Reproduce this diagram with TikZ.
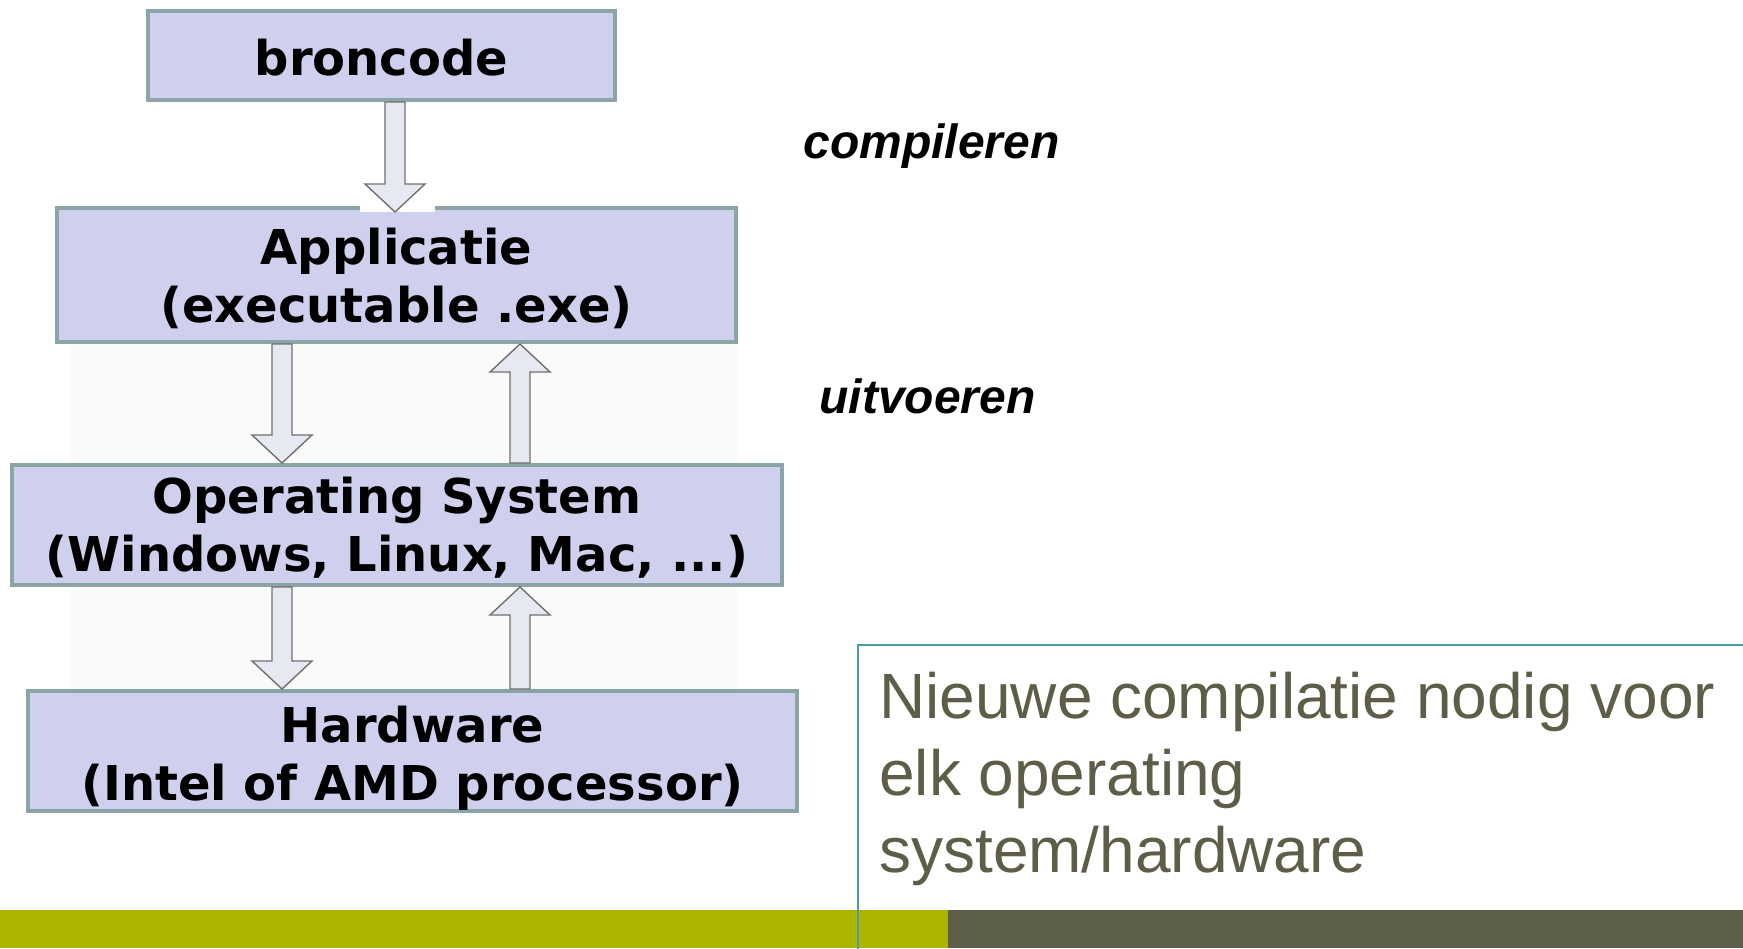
\documentclass[tikz,border=0pt]{standalone}
\usepackage{fontspec}
\setmainfont{DejaVu Sans}
\newfontfamily\labelfont{Liberation Sans}
\usetikzlibrary{calc}
\definecolor{boxfill}{HTML}{CFCFEE}
\definecolor{boxline}{HTML}{8BA5A7}
\definecolor{arrfill}{HTML}{E6E9F1}
\definecolor{arrline}{HTML}{707070}
\definecolor{notetext}{HTML}{5E5E48}
\definecolor{noteframe}{HTML}{4E9CA8}
\definecolor{barolive}{HTML}{ADB500}
\definecolor{bardark}{HTML}{5E5F4A}
\definecolor{haze}{HTML}{FAFAFA}

% block arrows between two points (canvas y points up)
\newcommand\blockdown[2]{%
  \path[blockarr] let \p1=(#1), \p2=(#2) in
    (\x1-10pt,\y1) -- (\x1+10pt,\y1) -- (\x1+10pt,\y2+28pt) -- (\x1+30pt,\y2+28pt)
    -- (\x1,\y2) -- (\x1-30pt,\y2+28pt) -- (\x1-10pt,\y2+28pt) -- cycle;}
\newcommand\blockup[2]{%
  \path[blockarr] let \p1=(#1), \p2=(#2) in
    (\x1-10pt,\y1) -- (\x1-10pt,\y2-28pt) -- (\x1-30pt,\y2-28pt) -- (\x1,\y2)
    -- (\x1+30pt,\y2-28pt) -- (\x1+10pt,\y2-28pt) -- (\x1+10pt,\y1) -- cycle;}

\begin{document}
\begin{tikzpicture}[x=1pt,y=-1pt,
  layer/.style={draw=boxline, fill=boxfill, line width=4pt, inner sep=0pt},
  layertext/.style={inner sep=0pt, align=center,
    font=\fontsize{48}{58}\selectfont\bfseries},
  blockarr/.style={draw=arrline, fill=arrfill, line width=1.4pt, line join=miter},
  steplabel/.style={font=\labelfont\fontsize{48}{58}\selectfont\bfseries\itshape,
    anchor=base, inner sep=0pt},
  noteline/.style={font=\labelfont\fontsize{64}{77}\selectfont, text=notetext,
    anchor=base west, inner sep=0pt}]
\useasboundingbox (0,0) rectangle (1743,948);
\fill[white] (0,0) rectangle (1743,948);

% faint backdrop behind the run-time arrows
\fill[haze] (71,344) rectangle (737,689);

% arrow x positions
\coordinate (cx) at (395,0);
\coordinate (lx) at (282,0);
\coordinate (rx) at (520,0);

% layers
\node[layer, minimum width=467, minimum height=89] (src) at (381.5,55.5) {};
\node[layer, minimum width=679, minimum height=134] (app) at (396.5,275) {};
\node[layer, minimum width=770, minimum height=120] (os) at (397,525) {};
\node[layer, minimum width=769, minimum height=120] (hw) at (412.5,751) {};

\node[layertext] (srct) at (381.5,58) {broncode};
\node[layertext] (appt) at (396.5,278.5) {Applicatie\\(executable .exe)};
\node[layertext] (ost) at (397,528) {Operating System\\(Windows, Linux, Mac, ...)};
\node[layertext] (hwt) at (412.5,758) {Hardware\\(Intel of AMD processor)};

% compile arrow on its white patch
\fill[white] (360,105) rectangle (435,212);
\blockdown{cx |- src.south}{[yshift=-6pt]cx |- app.north}

% run-time arrows
\blockdown{lx |- app.south}{lx |- os.north}
\blockup{rx |- os.north}{rx |- app.south}
\blockdown{lx |- os.south}{lx |- hw.north}
\blockup{rx |- hw.north}{rx |- os.south}

% step labels
\node[steplabel] (lblc) at (931.5,158) {compileren};
\node[steplabel] (lblr) at (927.5,413) {uitvoeren};

% bottom bars
\fill[barolive] (0,910) rectangle (948,948);
\fill[bardark] (948,910) rectangle (1743,948);

% note panel
\draw[noteframe, line width=2pt] (858,950) -- (858,645) -- (1746,645);
\node[noteline] (n1) at (879,718) {Nieuwe compilatie nodig voor};
\node[noteline] (n2) at (879,795) {elk operating};
\node[noteline] (n3) at (879,872) {system/hardware};
\end{tikzpicture}
\end{document}
